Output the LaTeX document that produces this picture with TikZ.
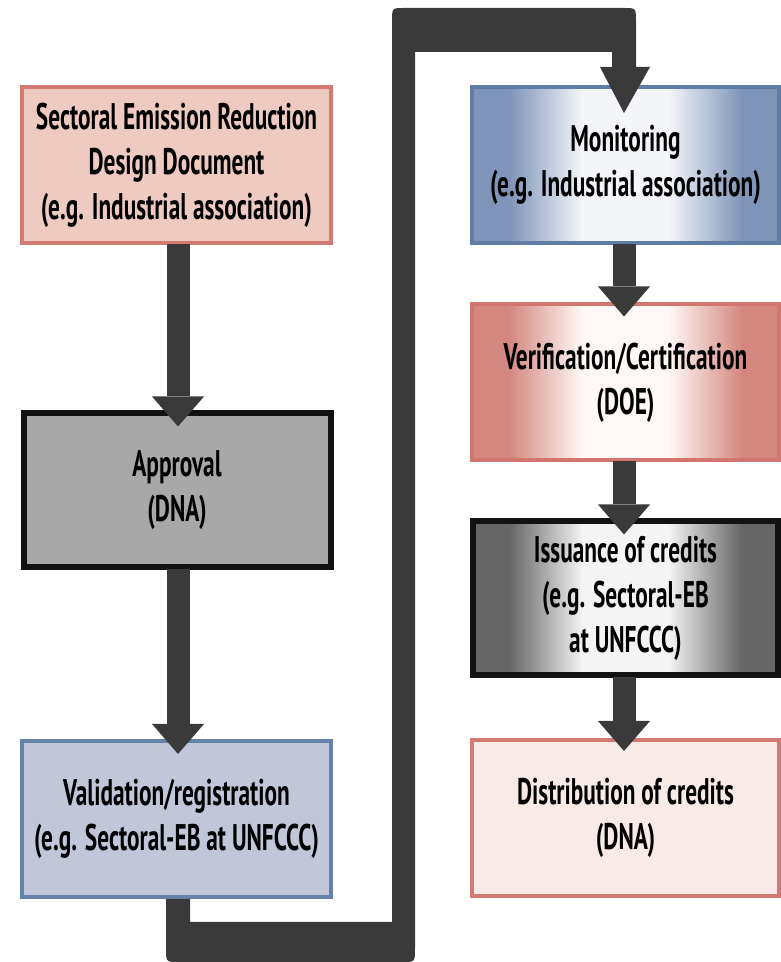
\documentclass[tikz,border=0pt]{standalone}
\usepackage{fontspec}
\newfontfamily\boxfont{PT Sans}[FakeStretch=0.63]
\usetikzlibrary{arrows.meta,calc}
\definecolor{conn}{HTML}{3A3A3A}
\definecolor{redB}{HTML}{D37A72}
\definecolor{redF}{HTML}{EFCAC1}
\definecolor{blueB}{HTML}{5F7CA5}
\definecolor{blueE}{HTML}{7E94B8}
\definecolor{blueC}{HTML}{F4F5F8}
\definecolor{grayF}{HTML}{A8A8A8}
\definecolor{verB}{HTML}{D1756E}
\definecolor{verE}{HTML}{D4877F}
\definecolor{verC}{HTML}{FFF8F6}
\definecolor{valB}{HTML}{6681AA}
\definecolor{valF}{HTML}{C1C7D9}
\definecolor{issE}{HTML}{666666}
\definecolor{issC}{HTML}{F4F4F4}
\definecolor{disF}{HTML}{F8EBE7}
\pgfdeclarehorizontalshading{monshade}{100bp}{color(0bp)=(blueE); color(31bp)=(blueE); color(43bp)=(blueC); color(57bp)=(blueC); color(69bp)=(blueE); color(100bp)=(blueE)}
\pgfdeclarehorizontalshading{vershade}{100bp}{color(0bp)=(verE); color(31bp)=(verE); color(43bp)=(verC); color(57bp)=(verC); color(69bp)=(verE); color(100bp)=(verE)}
\pgfdeclarehorizontalshading{issshade}{100bp}{color(0bp)=(issE); color(31bp)=(issE); color(43bp)=(issC); color(57bp)=(issC); color(69bp)=(issE); color(100bp)=(issE)}
\tikzset{
  boxtext/.style={align=center, font=\boxfont\bfseries\fontsize{37}{45}\selectfont, text=black, inner sep=0pt},
  colbox/.style={boxtext, rectangle, line width=4pt, minimum height=156pt},
  blkbox/.style={boxtext, rectangle, line width=6pt, draw=black!93, minimum height=154pt},
  leftcol/.style={minimum width=309pt},
  rightcol/.style={minimum width=307pt},
  flowarrow/.style={draw=conn, line width=23pt, -{Triangle[width=52pt,length=30pt,line width=0pt]}, shorten <=-1pt},
}
\begin{document}
\begin{tikzpicture}[x=1pt,y=1pt]
\useasboundingbox (0,0) rectangle (781,962);
% left column
\node[colbox, leftcol, draw=redB, fill=redF] (serd) at (176.5,797) {Sectoral Emission Reduction\\Design Document\\(e.g. Industrial association)};
\node[blkbox, leftcol, minimum width=307pt, fill=grayF] (app) at (177,471.5) {Approval\\(DNA)};
\node[colbox, leftcol, draw=valB, fill=valF] (val) at (176.5,143) {Validation/registration\\(e.g. Sectoral-EB at UNFCCC)};
% right column
\node[colbox, rightcol, draw=blueB, shade, shading=monshade] (mon) at (625.5,797) {Monitoring\\(e.g. Industrial association)};
\node[colbox, rightcol, draw=verB, shade, shading=vershade] (ver) at (625.5,579.5) {Verification/Certification\\(DOE)};
\node[blkbox, rightcol, minimum width=305pt, shade, shading=issshade] (iss) at (625.5,363.5) {Issuance of credits\\(e.g. Sectoral-EB\\at UNFCCC)};
\node[colbox, rightcol, draw=redB, fill=disF] (dis) at (625.5,144) {Distribution of credits\\(DNA)};
% straight arrows
\draw[flowarrow] ($(serd.south)+(1.5,0)$) -- ($(app.north)+(1,-16)$);
\draw[flowarrow] ($(app.south)+(1,0)$) -- ($(val.north)+(1.5,-15)$);
\draw[flowarrow] ($(mon.south)+(-1.5,0)$) -- ($(ver.north)+(-1.5,-14)$);
\draw[flowarrow] ($(ver.south)+(-1.5,0)$) -- ($(iss.north)+(-1.5,-16)$);
\draw[flowarrow] ($(iss.south)+(-1.5,0)$) -- ($(dis.north)+(-1.5,-13)$);
% big connector from validation to monitoring
\coordinate (cs1) at ($(val.south)+(-10.5,0)$);
\coordinate (cs2) at ($(val.south)+(13.5,0)$);
\coordinate (ce) at ($(mon.north)+(-1.5,-28)$);
\fill[conn] (cs1) -- (cs1 |- 0,14) .. controls (cs1 |- 0,0) .. ($(cs1 |- 0,0)+(12,0)$)
  -- (403,0) .. controls (415,0) .. (415,14)
  -- (415,910) -- ($(ce |- 0,910)+(-12,0)$) -- ($(ce |- 0,895)+(-12,0)$) -- ($(ce |- 0,895)+(-24,0)$)
  -- (ce) -- ($(ce |- 0,895)+(26,0)$) -- ($(ce |- 0,895)+(12,0)$)
  -- ($(ce |- 0,940)+(12,0)$) .. controls ($(ce |- 0,954)+(12,0)$) .. (ce |- 0,954)
  -- (404,954) .. controls (392,954) .. (392,940)
  -- (392,40) -- (cs2 |- 0,40) -- (cs2) -- cycle;
\end{tikzpicture}
\end{document}
